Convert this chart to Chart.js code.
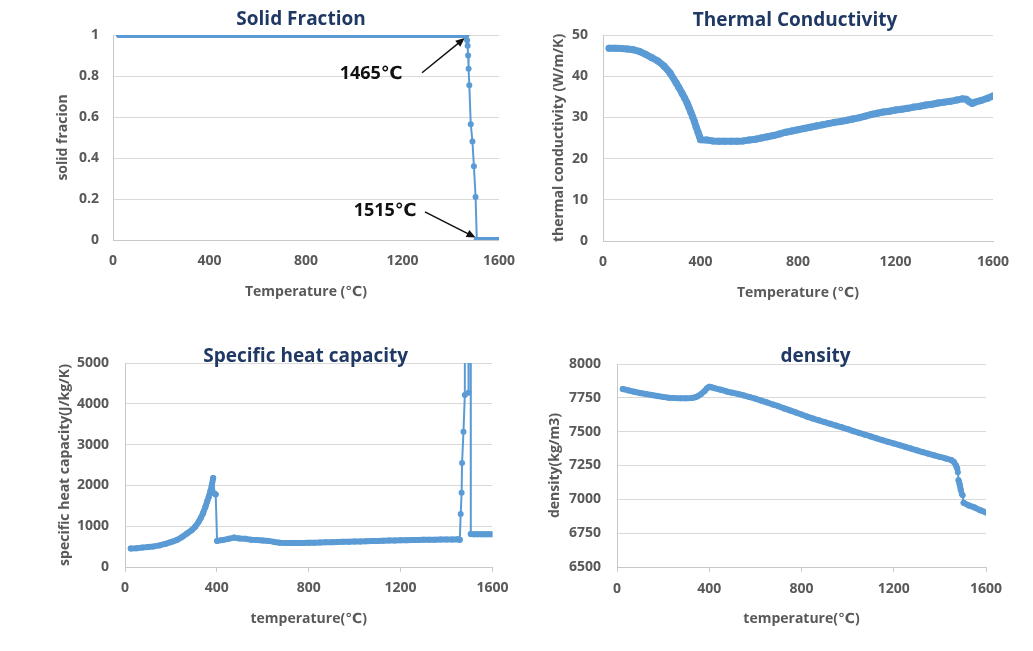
<!DOCTYPE html>
<html>
<head>
<meta charset="utf-8">
<script src="https://cdn.jsdelivr.net/npm/chart.js@4.4.1/dist/chart.umd.min.js"></script>
<style>
  body { margin: 0; background: #fff; width: 1033px; height: 651px; overflow: hidden; position: relative; }
  canvas { position: absolute; }
</style>
</head>
<body>
<canvas id="c1" width="516" height="310" style="left:0;top:0"></canvas>
<canvas id="c2" width="517" height="310" style="left:516px;top:0"></canvas>
<canvas id="c3" width="516" height="331" style="left:0;top:320px"></canvas>
<canvas id="c4" width="517" height="331" style="left:516px;top:320px"></canvas>
<script>
// ---- data ----
const sfTemp = [25, 50, 75, 100, 125, 150, 175, 200, 225, 250, 275, 300, 325, 350, 375, 400, 425, 450, 475, 500,
  525, 550, 575, 600, 625, 650, 675, 700, 725, 750, 775, 800, 825, 850, 875, 900, 925, 950, 975, 1000,
  1025, 1050, 1075, 1100, 1125, 1150, 1175, 1200, 1225, 1250, 1275, 1300, 1325, 1350, 1375, 1400, 1425, 1450,
  1465, 1468, 1470, 1472, 1474, 1477, 1483, 1490, 1496, 1503, 1508, 1525, 1540, 1555, 1570, 1585, 1600];
const sfValue = [1, 1, 1, 1, 1, 1, 1, 1, 1, 1, 1, 1, 1, 1, 1, 1, 1, 1, 1, 1,
  1, 1, 1, 1, 1, 1, 1, 1, 1, 1, 1, 1, 1, 1, 1, 1, 1, 1, 1, 1,
  1, 1, 1, 1, 1, 1, 1, 1, 1, 1, 1, 1, 1, 1, 1, 1, 1, 1,
  1, 0.975, 0.947, 0.9, 0.835, 0.755, 0.565, 0.48, 0.36, 0.21, 0, 0, 0, 0, 0, 0, 0];

const tcTemp = [25, 50, 75, 100, 125, 150, 175, 200, 225, 250, 275, 300, 310, 325, 335, 345, 352, 360, 368, 375,
  382, 390, 395, 400, 425, 450, 475, 500, 525, 550, 575, 600, 625, 650, 675, 700, 725, 750, 775, 800,
  825, 850, 875, 900, 925, 950, 975, 1000, 1025, 1050, 1075, 1100, 1125, 1150, 1175, 1200, 1225, 1250,
  1275, 1300, 1325, 1350, 1375, 1400, 1425, 1450, 1475, 1490, 1500, 1515, 1525, 1550, 1575, 1600];
const tcValue = [46.8, 46.8, 46.7, 46.6, 46.4, 46.0, 45.3, 44.5, 43.7, 42.5, 40.8, 38.4, 37.4, 35.8, 34.7, 33.5, 32.5, 31.3, 30.1, 29.0,
  27.7, 26.4, 25.5, 24.6, 24.5, 24.3, 24.2, 24.2, 24.2, 24.2, 24.3, 24.5, 24.7, 25.0, 25.3, 25.6, 26.0, 26.4, 26.7, 27.0,
  27.3, 27.6, 27.9, 28.2, 28.5, 28.8, 29.0, 29.3, 29.6, 29.9, 30.3, 30.7, 31.0, 31.3, 31.5, 31.8, 32.0, 32.2,
  32.5, 32.7, 33.0, 33.2, 33.5, 33.7, 33.9, 34.2, 34.5, 34.4, 33.9, 33.4, 33.7, 34.1, 34.6, 35.2];

const cpTemp = [25, 50, 75, 100, 125, 150, 175, 200, 225, 250, 270, 290, 305, 320, 330, 340, 350, 358, 365, 372,
  378, 384, 390, 395, 401, 425, 450, 475, 500, 525, 550, 575, 600, 625, 650, 675, 700, 725, 750, 775,
  800, 825, 850, 875, 900, 925, 950, 975, 1000, 1025, 1050, 1075, 1100, 1125, 1150, 1175, 1200, 1225,
  1250, 1275, 1300, 1325, 1350, 1375, 1400, 1425, 1450, 1458, 1462, 1466, 1468, 1474, 1480, 1486, 1496, 1503,
  1506, 1520, 1535, 1550, 1565, 1580, 1600];
const cpValue = [455, 462, 475, 490, 505, 530, 565, 610, 660, 740, 820, 900, 980, 1100, 1200, 1320, 1470, 1610, 1720, 1860,
  2000, 2180, 1800, 1780, 640, 660, 690, 720, 700, 690, 670, 660, 650, 640, 615, 595, 590, 588, 588, 590,
  592, 596, 600, 604, 608, 612, 616, 620, 625, 628, 632, 636, 640, 644, 648, 651, 655, 657,
  660, 662, 665, 667, 670, 672, 675, 677, 680, 665, 1300, 1820, 2550, 3316, 4216, 40000, 4272, 40000,
  808, 805, 803, 800, 800, 800, 800];

const rhoTemp = [25, 50, 75, 100, 125, 150, 175, 200, 225, 250, 275, 300, 325, 340, 350, 365, 380, 390, 400, 410,
  425, 450, 475, 500, 525, 550, 575, 600, 625, 650, 675, 700, 725, 750, 775, 800, 825, 850, 875, 900,
  925, 950, 975, 1000, 1025, 1050, 1075, 1100, 1125, 1150, 1175, 1200, 1225, 1250, 1275, 1300, 1325, 1350,
  1375, 1400, 1425, 1450, 1460, 1470, 1475, 1478, 1481, 1486, 1491, 1495, 1499, 1503, 1525, 1550, 1575, 1600];
const rhoValue = [7815, 7805, 7795, 7786, 7778, 7771, 7764, 7757, 7751, 7748, 7746, 7746, 7748, 7755, 7762, 7778, 7800, 7820, 7832, 7828,
  7820, 7810, 7797, 7788, 7778, 7768, 7756, 7744, 7730, 7716, 7701, 7688, 7672, 7657, 7642, 7627, 7611, 7597, 7584, 7571,
  7558, 7545, 7532, 7519, 7504, 7491, 7478, 7465, 7451, 7438, 7425, 7413, 7400, 7388, 7375, 7362, 7349, 7337,
  7325, 7313, 7302, 7290, 7277, 7250, 7228, 7200, 7141, 7110, 7067, 7040, 7030, 6974, 6955, 6940, 6920, 6903];

const notes = ['1465℃', '1515℃'];
const noteText = [[1070, 0.81], [1128, 0.14]];
const noteTail = [[1281, 0.816], [1293, 0.137]];
const noteTip = [[1458, 0.985], [1503, 0.012]];

// ---- styling ----
const FONT = "'Open Sans', 'DejaVu Sans', sans-serif";
const BLUE = '#5b9bd5';
const GRAY = '#595959';
Chart.defaults.font.family = FONT;

const titlePlugin = {
  id: 'panelTitle',
  afterDraw(chart, args, opts) {
    const { ctx, chartArea } = chart;
    ctx.save();
    ctx.font = "bold 19px " + FONT;
    ctx.fillStyle = '#203864';
    ctx.textAlign = 'center';
    ctx.textBaseline = 'alphabetic';
    ctx.fillText(opts.text, (chartArea.left + chartArea.right) / 2 + opts.dx, opts.baseline);
    ctx.restore();
  }
};
Chart.register(titlePlugin);

const arrowPlugin = {
  id: 'arrows',
  afterDatasetsDraw(chart) {
    const { ctx, scales: { x, y } } = chart;
    ctx.save();
    ctx.font = "bold 18px " + FONT;
    ctx.fillStyle = '#111';
    ctx.strokeStyle = '#111';
    ctx.lineWidth = 1.5;
    ctx.textAlign = 'center';
    ctx.textBaseline = 'middle';
    notes.forEach((t, i) => {
      ctx.fillText(t, x.getPixelForValue(noteText[i][0]), y.getPixelForValue(noteText[i][1]));
      const x0 = x.getPixelForValue(noteTail[i][0]), y0 = y.getPixelForValue(noteTail[i][1]);
      const x1 = x.getPixelForValue(noteTip[i][0]), y1 = y.getPixelForValue(noteTip[i][1]);
      const a = Math.atan2(y1 - y0, x1 - x0);
      ctx.beginPath();
      ctx.moveTo(x0, y0);
      ctx.lineTo(x1 - 6 * Math.cos(a), y1 - 6 * Math.sin(a));
      ctx.stroke();
      ctx.beginPath();
      ctx.moveTo(x1, y1);
      ctx.lineTo(x1 - 9 * Math.cos(a) + 4 * Math.sin(a), y1 - 9 * Math.sin(a) - 4 * Math.cos(a));
      ctx.lineTo(x1 - 9 * Math.cos(a) - 4 * Math.sin(a), y1 - 9 * Math.sin(a) + 4 * Math.cos(a));
      ctx.closePath();
      ctx.fill();
    });
    ctx.restore();
  }
};

const fmt = v => String(Math.round(v * 1000) / 1000);

function makeChart(id, temps, values, c) {
  const points = temps.map((t, i) => ({ x: t, y: values[i] }));
  // dense runs of markers merge into a thick band, like the spreadsheet plot
  const segWidth = ctx => {
    const len = Math.hypot(ctx.p1.x - ctx.p0.x, ctx.p1.y - ctx.p0.y);
    const dT = ctx.p1.parsed.x - ctx.p0.parsed.x;
    return len < 13 && dT >= 5 ? c.band : 2;
  };
  return new Chart(document.getElementById(id), {
    type: 'scatter',
    data: {
      datasets: [{
        data: points,
        showLine: true,
        borderColor: BLUE,
        backgroundColor: BLUE,
        borderWidth: 2,
        borderCapStyle: 'round',
        borderJoinStyle: 'round',
        segment: { borderWidth: segWidth },
        pointRadius: c.radius,
        pointBorderWidth: 0,
        pointHoverRadius: c.radius
      }]
    },
    options: {
      responsive: false,
      animation: false,
      layout: { padding: { left: 0, right: c.padRight, top: c.padTop, bottom: 0 } },
      plugins: {
        legend: { display: false },
        tooltip: { enabled: false },
        panelTitle: { text: c.title, dx: c.titleDx, baseline: c.titleBase }
      },
      scales: {
        x: {
          type: 'linear',
          min: 0, max: 1600,
          afterFit: s => { s.height = c.xHeight; },
          grid: c.xMarks
            ? { drawOnChartArea: false, drawTicks: true, tickLength: 5, color: '#c8c8c8' }
            : { display: false, drawTicks: true, tickLength: 11.6 },
          border: { display: true, color: '#c8c8c8' },
          ticks: { stepSize: 400, padding: c.xPad, color: GRAY, font: { size: 14, weight: 'bold' }, callback: fmt, maxRotation: 0 },
          title: { display: true, text: c.xTitle, color: GRAY, font: { size: 14, weight: 'bold' }, padding: { top: 0, bottom: c.xTitlePad } }
        },
        y: {
          min: c.yMin, max: c.yMax,
          afterFit: s => { s.width = c.yWidth; },
          grid: { color: '#d9d9d9', drawTicks: false },
          border: { display: true, color: '#c8c8c8' },
          ticks: { stepSize: c.yStep, padding: c.yPad, color: GRAY, font: { size: 14, weight: 'bold' }, callback: fmt },
          title: { display: true, text: c.yTitle, color: GRAY, font: { size: 14, weight: 'bold' }, padding: { top: c.yTitlePad, bottom: 0 } }
        }
      }
    },
    plugins: c.extra ? [c.extra] : []
  });
}

makeChart('c1', sfTemp, sfValue, {
  title: 'Solid Fraction', titleDx: -5, titleBase: 25, radius: 3, band: 6,
  padRight: 17, padTop: 35, yWidth: 113, xHeight: 70,
  yMin: 0, yMax: 1, yStep: 0.2, yPad: 14, xPad: 1, xMarks: false,
  yTitle: 'solid fracion', yTitlePad: 54.6, xTitle: 'Temperature (℃)', xTitlePad: 9.6,
  extra: arrowPlugin
});
makeChart('c2', tcTemp, tcValue, {
  title: 'Thermal Conductivity', titleDx: -3, titleBase: 25.7, radius: 3.5, band: 7,
  padRight: 40, padTop: 35, yWidth: 87, xHeight: 69,
  yMin: 0, yMax: 50, yStep: 10, yPad: 15, xPad: 1, xMarks: false,
  yTitle: 'thermal conductivity (W/m/K)', yTitlePad: 34.6, xTitle: 'Temperature (℃)', xTitlePad: 8.6
});
makeChart('c3', cpTemp, cpValue, {
  title: 'Specific heat capacity', titleDx: -3, titleBase: 41.5, radius: 3, band: 6,
  padRight: 23, padTop: 43, yWidth: 125, xHeight: 84,
  yMin: 0, yMax: 5000, yStep: 1000, yPad: 16, xPad: 7.6, xMarks: true,
  yTitle: 'specific heat capacity(J/kg/K)', yTitlePad: 56.6, xTitle: 'temperature(℃)', xTitlePad: 23.6
});
makeChart('c4', rhoTemp, rhoValue, {
  title: 'density', titleDx: 14, titleBase: 41.5, radius: 3, band: 6,
  padRight: 47, padTop: 44, yWidth: 101, xHeight: 84,
  yMin: 6500, yMax: 8000, yStep: 250, yPad: 16, xPad: 8.6, xMarks: true,
  yTitle: 'density(kg/m3)', yTitlePad: 30.6, xTitle: 'temperature(℃)', xTitlePad: 23.6
});
</script>
</body>
</html>
